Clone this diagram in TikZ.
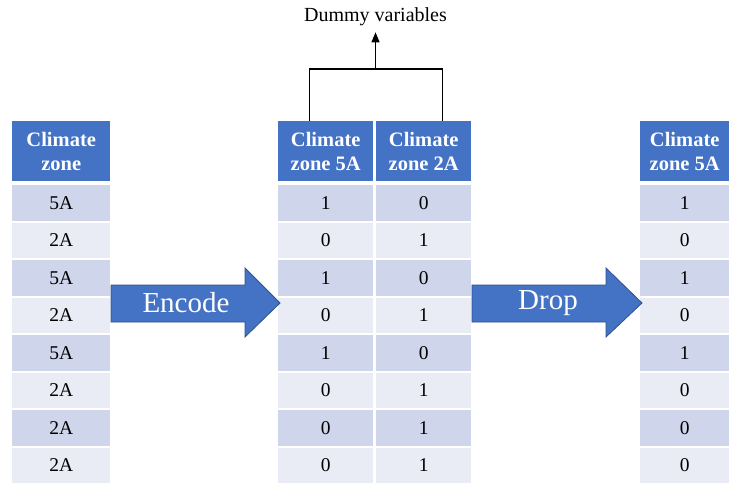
\documentclass[tikz,border=0pt]{standalone}
\usepackage{fontspec}
\setmainfont{Liberation Serif}
\usetikzlibrary{arrows.meta}
\definecolor{hdblue}{HTML}{4472C4}
\definecolor{rowdark}{HTML}{CFD5EA}
\definecolor{rowlight}{HTML}{E9EBF5}
\definecolor{arrline}{HTML}{2F528F}
\tikzset{
  headcell/.style={fill=hdblue,text=white,inner sep=0pt,anchor=north west,
    align=center,minimum height=60pt,
    font=\fontsize{20.5}{24}\selectfont\bfseries},
  cell/.style={inner sep=0pt,anchor=north west,minimum height=35.5pt,
    font=\fontsize{19.5}{21}\selectfont},
  bigarrow/.style={fill=hdblue,draw=arrline,line width=0.8pt,line join=miter},
  arrowtext/.style={text=white,font=\fontsize{29}{31}\selectfont}
}
\begin{document}
\begin{tikzpicture}[x=1pt,y=-1pt]
  \useasboundingbox (0,0) rectangle (730,483);
  % header cells
  \node[headcell,minimum width=98pt] (hL) at (12,121) {Climate\\zone};
  \node[headcell,minimum width=95pt] (hM1) at (278,121) {Climate\\zone 5A};
  \node[headcell,minimum width=95pt] (hM2) at (376,121) {Climate\\zone 2A};
  \node[headcell,minimum width=89pt] (hR) at (640,121) {Climate\\zone 5A};
  % table rows
  \foreach \v/\a/\b/\r [count=\i] in {5A/1/0/1,2A/0/1/0,5A/1/0/1,2A/0/1/0,
      5A/1/0/1,2A/0/1/0,2A/0/1/0,2A/0/1/0} {
    \ifodd\i \def\rowcol{rowdark}\else \def\rowcol{rowlight}\fi
    \node[cell,fill=\rowcol,minimum width=98pt] (L\i) at (12,147.5+37.5*\i) {\v};
    \node[cell,fill=\rowcol,minimum width=95pt] (Ma\i) at (278,147.5+37.5*\i) {\a};
    \node[cell,fill=\rowcol,minimum width=95pt] (Mb\i) at (376,147.5+37.5*\i) {\b};
    \node[cell,fill=\rowcol,minimum width=89pt] (R\i) at (640,147.5+37.5*\i) {\r};
  }
  % block arrows
  \draw[bigarrow] (111,285) -- (245,285) -- (245,268) -- (280,303) -- (245,337)
    -- (245,322) -- (111,322) -- cycle;
  \node[arrowtext] (encode) at (186,303) {Encode};
  \draw[bigarrow] (472,285) -- (606,285) -- (606,268) -- (642,303) -- (606,337)
    -- (606,322) -- (472,322) -- cycle;
  \node[arrowtext] (drop) at (548,303) {Drop};
  % dummy variables bracket
  \node[font=\fontsize{20}{22}\selectfont,inner sep=2pt] (dummy) at (375.5,17) {Dummy variables};
  \coordinate (join) at (375.5,69);
  \draw[line width=1.3pt] ([xshift=-16.5pt]hM1.north) |- (join)
    -| ([xshift=18.5pt]hM2.north);
  \draw[line width=1.3pt,-{Triangle[width=8pt,length=10pt]},shorten >=4pt] (join) -- (dummy.south);
\end{tikzpicture}
\end{document}
